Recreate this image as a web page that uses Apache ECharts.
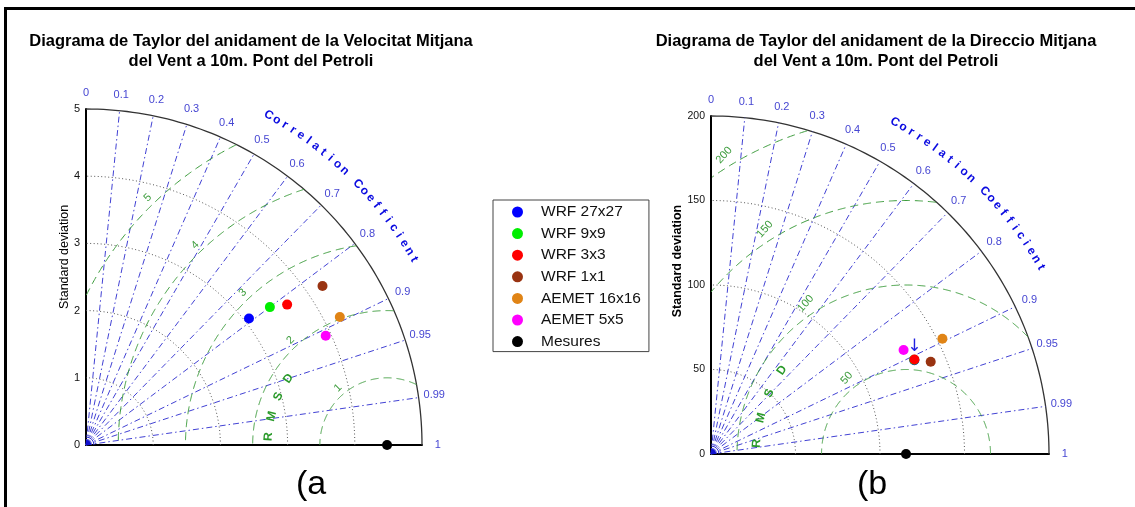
<!DOCTYPE html>
<html>
<head>
<meta charset="utf-8">
<script src="https://cdn.jsdelivr.net/npm/echarts@6/dist/echarts.min.js"></script>
<style>
  html, body { margin: 0; padding: 0; background: #ffffff; }
  #chart { width: 1135px; height: 507px; }
</style>
</head>
<body>
<div id="chart"></div>
<script>
// ---- data -------------------------------------------------------------
const seriesNames = ['WRF 27x27', 'WRF 9x9', 'WRF 3x3', 'WRF 1x1', 'AEMET 16x16', 'AEMET 5x5', 'Mesures'];
const pointColors = ['#0000ff', '#00ee00', '#ff0000', '#993311', '#e08416', '#ff00ff', '#000000'];

// (a) mean wind speed: standard deviation and correlation per source
const speedStd  = [3.07, 3.42, 3.65, 4.24, 4.23, 3.92, 4.48];
const speedCorr = [0.79, 0.80, 0.82, 0.83, 0.893, 0.91, 1];
const speedStdTicks = [0, 1, 2, 3, 4, 5];
const speedRmsdLevels = [1, 2, 3, 4, 5];

// (b) mean wind direction
const dirStd  = [132.5, 132.6, 132.7, 141.0, 153.0, 129.5, 115.4];
const dirCorr = [0.908, 0.907, 0.907, 0.922, 0.895, 0.88, 1];
const dirStdTicks = [0, 50, 100, 150, 200];
const dirRmsdLevels = [50, 100, 150, 200];

const corrTicks = [0, 0.1, 0.2, 0.3, 0.4, 0.5, 0.6, 0.7, 0.8, 0.9, 0.95, 0.99, 1];

const titleA = 'Diagrama de Taylor del anidament de la Velocitat Mitjana\ndel Vent a 10m. Pont del Petroli';
const titleB = 'Diagrama de Taylor del anidament de la Direccio Mitjana\ndel Vent a 10m. Pont del Petroli';
const corrTitle = 'Correlation Coefficient';
const rmsdTitle = 'RMSD';

// ---- styling ----------------------------------------------------------
const FONT = '"Liberation Sans", Arial, Helvetica, sans-serif';
const CORR_LINE = '#4242d4';
const CORR_TEXT = '#4646d2';
const RMSD_GREEN = '#3c9c3c';
const DEG = Math.PI / 180;

function toXY(std, corr) {
  const c = Math.max(-1, Math.min(1, corr));
  return [std * c, std * Math.sqrt(1 - c * c)];
}

function textEl(x, y, text, opt) {
  return {
    type: 'text',
    x: x, y: y,
    rotation: opt.rotation || 0,
    style: {
      text: text,
      fill: opt.color,
      fontSize: opt.size,
      fontWeight: opt.weight || 'normal',
      fontFamily: FONT,
      align: 'center', verticalAlign: 'middle',
      textAlign: 'center', textVerticalAlign: 'middle'
    }
  };
}

function buildPanel(idx, o) {
  const rmax = o.stdTicks[o.stdTicks.length - 1];
  const ref = o.stds[o.stds.length - 1];
  const rStep = o.rmsd[1] - o.rmsd[0];
  const common = { coordinateSystem: 'cartesian2d', xAxisIndex: idx, yAxisIndex: idx, clip: false, silent: true };

  const grid = { left: o.left, top: o.top, width: o.size, height: o.size, containLabel: false };
  const axisLine = { show: true, onZero: false, lineStyle: { color: '#000', width: 2 } };
  const xAxis = {
    gridIndex: idx, type: 'value', min: 0, max: rmax,
    axisLine: axisLine, axisTick: { show: false }, axisLabel: { show: false }, splitLine: { show: false }
  };
  const yAxis = {
    gridIndex: idx, type: 'value', min: 0, max: rmax, interval: o.stdTicks[1] - o.stdTicks[0],
    axisLine: axisLine, axisTick: { show: false }, splitLine: { show: false },
    axisLabel: { color: '#111', fontSize: o.tickSize, fontFamily: FONT, margin: 6 }
  };

  const series = [];

  // standard deviation arcs (outer one solid)
  series.push(Object.assign({
    type: 'custom', z: 1,
    data: o.stdTicks.filter(v => v > 0).map(v => [v, 0]),
    renderItem: function (params, api) {
      const r = api.value(0);
      const pts = [];
      for (let k = 0; k <= 90; k++) {
        pts.push(api.coord([r * Math.cos(k * DEG), r * Math.sin(k * DEG)]));
      }
      const outer = Math.abs(r - rmax) < 1e-9;
      return {
        type: 'polyline', shape: { points: pts },
        style: outer
          ? { stroke: '#333', lineWidth: 1.3, fill: 'none' }
          : { stroke: '#555', lineWidth: 1, fill: 'none', lineDash: [1, 2.5] }
      };
    }
  }, common));

  // correlation rays and their labels
  series.push(Object.assign({
    type: 'custom', z: 2,
    data: corrTicks.map(c => [c, 0]),
    renderItem: function (params, api) {
      const c = api.value(0);
      const s = Math.sqrt(Math.max(0, 1 - c * c));
      const children = [];
      if (c > 0 && c < 1) {
        const p0 = api.coord([0, 0]);
        const p1 = api.coord([rmax * c, rmax * s]);
        children.push({
          type: 'line', shape: { x1: p0[0], y1: p0[1], x2: p1[0], y2: p1[1] },
          style: { stroke: CORR_LINE, lineWidth: 1, lineDash: [6, 3, 1.5, 3] }
        });
      }
      const pl = api.coord([1.047 * rmax * c, 1.047 * rmax * s]);
      children.push(textEl(pl[0], pl[1], String(c), { color: CORR_TEXT, size: 11 }));
      return { type: 'group', children: children };
    }
  }, common));

  // centred RMS difference contours around the reference point
  series.push(Object.assign({
    type: 'custom', z: 3,
    data: o.rmsd.map(r => [r, 0]),
    renderItem: function (params, api) {
      const r = api.value(0);
      const children = [];
      let seg = [];
      const flush = () => {
        if (seg.length > 1) {
          children.push({
            type: 'polyline', shape: { points: seg },
            style: { stroke: RMSD_GREEN, lineWidth: 1, fill: 'none', lineDash: [8, 5] }
          });
        }
        seg = [];
      };
      for (let k = 0; k <= 720; k++) {
        const a = k * Math.PI / 720;
        const x = ref + r * Math.cos(a);
        const y = r * Math.sin(a);
        if (x >= 0 && x * x + y * y <= rmax * rmax * 1.0001) {
          seg.push(api.coord([x, y]));
        } else {
          flush();
        }
      }
      flush();
      // contour value sits where a straight guide line crosses the contour
      const phi = o.rmsLabelAngle * DEG;
      const R = r + o.rmsLabelPad * rmax;
      const d = o.rmsLabelBase * rmax - ref;
      const t = -d * Math.cos(phi) + Math.sqrt(d * d * Math.cos(phi) * Math.cos(phi) - d * d + R * R);
      const pl = api.coord([o.rmsLabelBase * rmax + t * Math.cos(phi), t * Math.sin(phi)]);
      children.push(textEl(pl[0], pl[1], String(r), { color: RMSD_GREEN, size: 11, rotation: o.rmsLabelRot * DEG }));
      return { type: 'group', children: children };
    }
  }, common));

  // curved axis titles and the origin marker
  series.push(Object.assign({
    type: 'custom', z: 4,
    data: [[0, 0]],
    renderItem: function (params, api) {
      const children = [];
      const chars = corrTitle.split('');
      const a0 = 61, a1 = 29.5;
      const rr = 1.122 * rmax;
      chars.forEach((ch, i) => {
        const a = (a0 + (a1 - a0) * i / (chars.length - 1)) * DEG;
        const p = api.coord([rr * Math.cos(a), rr * Math.sin(a)]);
        children.push(textEl(p[0], p[1], ch, { color: '#0a0ae0', size: 12, weight: 'bold', rotation: a - Math.PI / 2 }));
      });
      const rl = 1.77 * rStep;
      rmsdTitle.split('').forEach((ch, i) => {
        const a = (176 - 10 * i) * DEG;
        const p = api.coord([ref + rl * Math.cos(a), rl * Math.sin(a)]);
        children.push(textEl(p[0], p[1], ch, { color: '#2a9a2a', size: 12, weight: 'bold', rotation: a - Math.PI / 2 }));
      });
      const o0 = api.coord([0, 0]);
      children.push({
        type: 'sector',
        shape: { cx: o0[0], cy: o0[1], r0: 0, r: 5, startAngle: -Math.PI / 2, endAngle: 0, clockwise: true },
        style: { fill: '#1010d0' }
      });
      children.push({
        type: 'arc',
        shape: { cx: o0[0], cy: o0[1], r: 8, startAngle: -Math.PI / 2, endAngle: 0, clockwise: true },
        style: { stroke: '#3030d0', lineWidth: 1, fill: 'none' }
      });
      return { type: 'group', children: children };
    }
  }, common));

  // model and measurement points
  o.stds.forEach((s, i) => {
    const item = {
      type: 'scatter', name: seriesNames[i],
      xAxisIndex: idx, yAxisIndex: idx, clip: false, z: 10,
      symbol: 'circle', symbolSize: 10,
      itemStyle: { color: pointColors[i], opacity: 1 },
      data: [toXY(s, o.corrs[i])]
    };
    if (o.arrowOn === i) {
      item.label = {
        show: true, position: 'top', distance: 0, formatter: '\u2193',
        color: '#2020e0', fontSize: 17, fontFamily: '"DejaVu Sans", sans-serif'
      };
    }
    series.push(item);
  });

  return { grid, xAxis, yAxis, series };
}

const pA = buildPanel(0, {
  left: 86, top: 109, size: 336, tickSize: 11,
  stdTicks: speedStdTicks, rmsd: speedRmsdLevels, stds: speedStd, corrs: speedCorr,
  rmsLabelBase: 0.92, rmsLabelAngle: 135, rmsLabelPad: 0.024, rmsLabelRot: 45, arrowOn: -1
});
const pB = buildPanel(1, {
  left: 711, top: 116, size: 338, tickSize: 10.5,
  stdTicks: dirStdTicks, rmsd: dirRmsdLevels, stds: dirStd, corrs: dirCorr,
  rmsLabelBase: 0.525, rmsLabelAngle: 118.8, rmsLabelPad: 0.035, rmsLabelRot: 48, arrowOn: 0
});

function gText(x, y, text, size, weight, rotation) {
  return {
    type: 'text', x: x, y: y, rotation: rotation || 0, silent: true,
    style: {
      text: text, fill: '#000', fontSize: size, fontWeight: weight, fontFamily: FONT,
      lineHeight: Math.round(size * 1.2),
      align: 'center', verticalAlign: 'middle', textAlign: 'center', textVerticalAlign: 'middle'
    }
  };
}

const option = {
  backgroundColor: '#ffffff',
  animation: false,
  grid: [pA.grid, pB.grid],
  xAxis: [pA.xAxis, pB.xAxis],
  yAxis: [pA.yAxis, pB.yAxis],
  legend: {
    orient: 'vertical', left: 493, top: 200,
    data: seriesNames.map(n => ({ name: n, icon: 'circle' })),
    itemWidth: 11, itemHeight: 11, itemGap: 5.6,
    padding: [4, 8, 2, 19],
    borderColor: '#444', borderWidth: 1,
    selectedMode: false,
    textStyle: { fontSize: 15.5, fontFamily: FONT, color: '#111', padding: [0, 0, 0, 13] }
  },
  graphic: [
    { type: 'line', silent: true, shape: { x1: 4, y1: 8.5, x2: 1135, y2: 8.5 }, style: { stroke: '#000', lineWidth: 3 } },
    { type: 'line', silent: true, shape: { x1: 5.5, y1: 7, x2: 5.5, y2: 507 }, style: { stroke: '#000', lineWidth: 3 } },
    gText(251, 51, titleA, 16.5, 'bold'),
    gText(876, 51, titleB, 16.5, 'bold'),
    gText(65, 257, 'Standard deviation', 12.5, 'normal', Math.PI / 2),
    gText(678, 261, 'Standard deviation', 12.5, 'bold', Math.PI / 2),
    gText(311, 485, '(a', 34, 'normal'),
    gText(872, 485, '(b', 34, 'normal')
  ],
  series: pA.series.concat(pB.series)
};

const chart = echarts.init(document.getElementById('chart'));
chart.setOption(option);
</script>
</body>
</html>
